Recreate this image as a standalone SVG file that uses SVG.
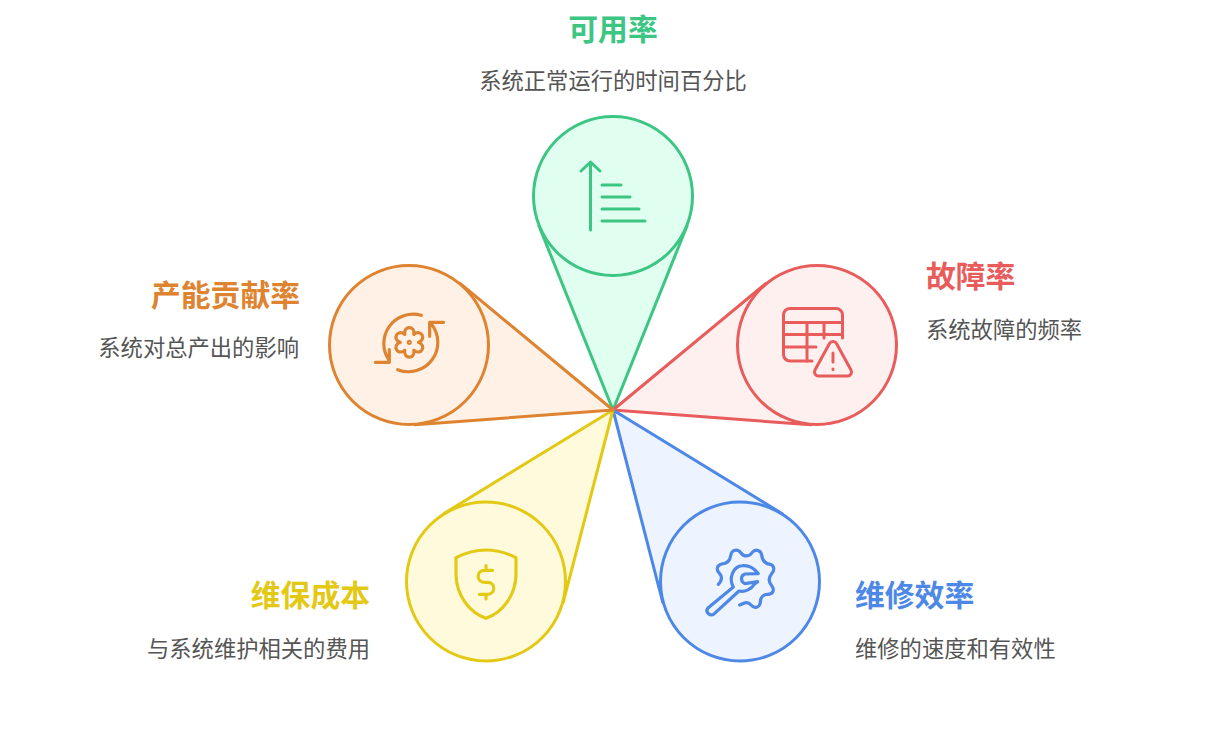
<svg xmlns="http://www.w3.org/2000/svg" width="1206" height="735" viewBox="0 0 1206 735">
<style>
text{font-family:"Noto Sans CJK SC","Noto Sans",sans-serif}
.t{font-size:29.8px;font-weight:700}
.s{font-size:22.3px;fill:#555555}
.e{text-anchor:end}
.m{text-anchor:middle}
.shape{stroke-width:3;stroke-linejoin:round}
.i{fill:none;stroke-linecap:round;stroke-linejoin:round}
.z{stroke-width:9.500}
.g{stroke:#3cc583;fill:#e1fff0}.gt{fill:#3cc583}
.r{stroke:#e85c5c;fill:#fff0f0}.rt{fill:#e85c5c}
.b{stroke:#4e88e7;fill:#eef4ff}.bt{fill:#4e88e7}
.y{stroke:#e3c913;fill:#fffadc}.yt{fill:#e3c913}
.o{stroke:#de8431;fill:#fff1e5}.ot{fill:#de8431}
</style>
<rect width="1206" height="735" fill="#ffffff"/>
<g id="connectors">
<path class="shape g" d="M613 410L539 226L687 226Z"/>
<path class="shape r" d="M613 410L765.900 283.400L810.900 424.800Z"/>
<path class="shape b" d="M613 410L782.300 513.700L662.700 602.200Z"/>
<path class="shape y" d="M613 410L563.300 602.200L443.700 513.700Z"/>
<path class="shape o" d="M613 410L415.100 424.800L460.100 283.400Z"/>
</g>
<g id="availability">
<circle class="shape g" cx="613" cy="196" r="79.500"/>
<g class="i" stroke="#3cc583" stroke-width="3">
<path d="M590.500 230V162M581 171L590.500 162L600 171M602 185H621M602 197H630M602 209H639M602 221H645"/>
</g>
<text class="t m gt" x="613" y="40">可用率</text>
<text class="s m" x="613" y="89">系统正常运行的时间百分比</text>
</g>
<g id="failure">
<circle class="shape r" cx="817" cy="345" r="79.500"/>
<g class="i" stroke="#e85c5c" stroke-width="3">
<path d="M812 361H790A6.500 6.500 0 0 1 783.500 354.500V315A6.500 6.500 0 0 1 790 308.500H836A6.500 6.500 0 0 1 842.500 315V338"/>
<path d="M783.500 322.500H842.500M783.500 334.500H842.500M783.500 347H816M807 322.500V361M824 322.500V338"/>
<path d="M829.500 343.500A4 4 0 0 1 836.500 343.500L851 370A4 4 0 0 1 847.500 376H818.500A4 4 0 0 1 815 370ZM833 353V362M833 369V369.500"/>
</g>
<text class="t rt" x="926" y="287">故障率</text>
<text class="s" x="926" y="338">系统故障的频率</text>
</g>
<g id="maintenance">
<circle class="shape b" cx="740" cy="581.500" r="79.500"/>
<g class="i z" stroke="#4e88e7" transform="translate(695 535) scale(.3333)">
<path d="M70 148C82 135 82 125 74 116C62 104 66 90 80 87C95 86 105 80 107 62C110 44 128 40 138 54C146 66 164 66 172 52C182 40 198 46 200 60C202 78 210 86 226 88C238 92 240 106 230 116C220 128 220 140 230 152C240 164 234 178 218 178C204 178 196 188 196 202C194 218 178 222 168 210C158 198 148 204 134 210"/>
<path d="M115 156L38 220C30 232 46 246 58 236L132 168C150 172 170 162 178 148L188 140L150 146C136 140 136 122 150 117L190 116C178 100 160 90 142 92C114 94 100 130 115 156Z"/>
</g>
<text class="t bt" x="855" y="606">维修效率</text>
<text class="s" x="855" y="657">维修的速度和有效性</text>
</g>
<g id="cost">
<circle class="shape y" cx="486" cy="581.500" r="79.500"/>
<g class="i z" stroke="#e3c913" transform="translate(440 535) scale(.3333)">
<path d="M48 68Q138 22 228 68V120C226 180 190 232 138 250C86 232 50 180 48 120Z"/>
<path d="M138 92V106M138 178V192M158 106H134C108 106 108 142 134 142H142C168 142 168 178 142 178H118"/>
</g>
<text class="t e yt" x="370" y="606">维保成本</text>
<text class="s e" x="370" y="657">与系统维护相关的费用</text>
</g>
<g id="capacity">
<circle class="shape o" cx="409" cy="345" r="79.500"/>
<g class="i z" stroke="#de8431" transform="translate(362 298) scale(.3333)">
<path d="M178 52A88 88 0 0 0 80 185M40 193H82V155"/>
<path d="M107 215A88 88 0 0 0 208 78M245 73H203V115"/>
<g id="gear-petals">
<path d="M128 109C124 82 160 82 156 109"/>
<path d="M128 109C124 82 160 82 156 109" transform="rotate(60 142 133)"/>
<path d="M128 109C124 82 160 82 156 109" transform="rotate(120 142 133)"/>
<path d="M128 109C124 82 160 82 156 109" transform="rotate(180 142 133)"/>
<path d="M128 109C124 82 160 82 156 109" transform="rotate(240 142 133)"/>
<path d="M128 109C124 82 160 82 156 109" transform="rotate(300 142 133)"/>
</g>
<circle cx="142" cy="133" r="3"/>
</g>
<text class="t e ot" x="300" y="306">产能贡献率</text>
<text class="s e" x="299" y="356">系统对总产出的影响</text>
</g>
</svg>
